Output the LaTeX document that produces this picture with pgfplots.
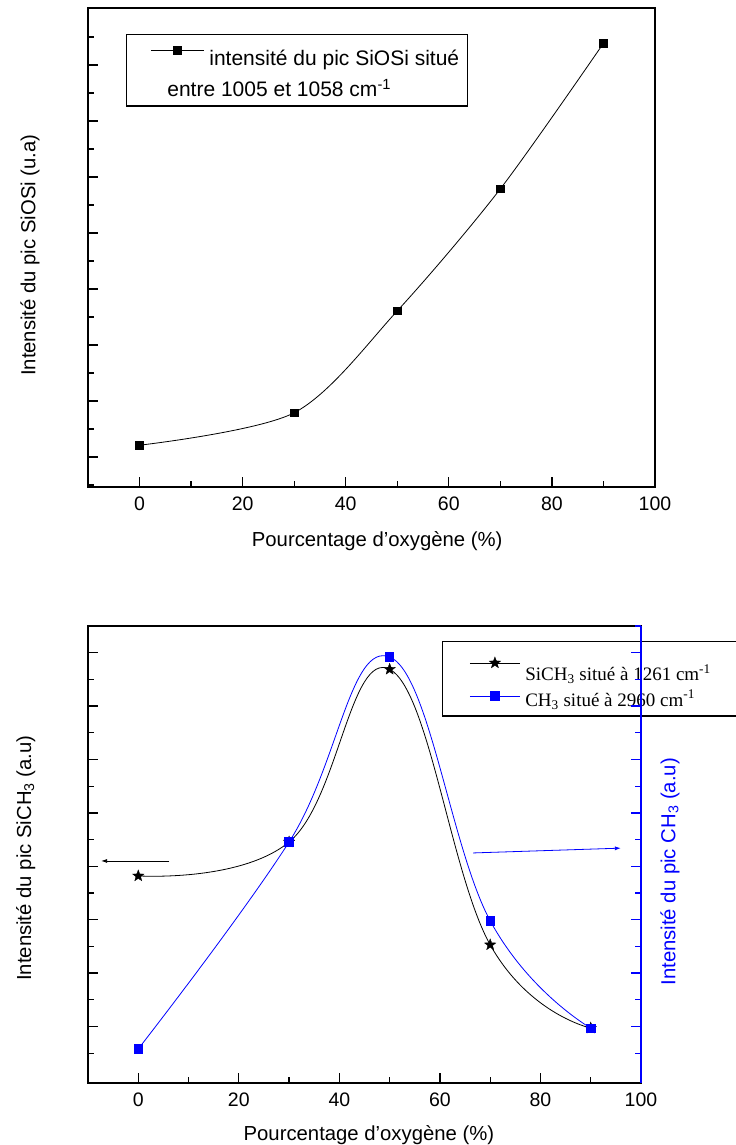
\documentclass[border=0pt]{standalone}
\usepackage{pgfplots}
\pgfplotsset{compat=1.18}
\usepackage{fontspec}
\setmainfont{Liberation Sans}
\newfontfamily\timesfont{Liberation Serif}
\usetikzlibrary{arrows.meta}
\definecolor{pureblue}{RGB}{0,0,255}
\pgfdeclareplotmark{fstar}{%
  \pgfpathmoveto{\pgfpointpolar{90}{\pgfplotmarksize}}%
  \pgfpathlineto{\pgfpointpolar{126}{0.42\pgfplotmarksize}}%
  \pgfpathlineto{\pgfpointpolar{162}{\pgfplotmarksize}}%
  \pgfpathlineto{\pgfpointpolar{198}{0.42\pgfplotmarksize}}%
  \pgfpathlineto{\pgfpointpolar{234}{\pgfplotmarksize}}%
  \pgfpathlineto{\pgfpointpolar{270}{0.42\pgfplotmarksize}}%
  \pgfpathlineto{\pgfpointpolar{306}{\pgfplotmarksize}}%
  \pgfpathlineto{\pgfpointpolar{342}{0.42\pgfplotmarksize}}%
  \pgfpathlineto{\pgfpointpolar{18}{\pgfplotmarksize}}%
  \pgfpathlineto{\pgfpointpolar{54}{0.42\pgfplotmarksize}}%
  \pgfpathclose
  \pgfusepathqfillstroke}
\newcommand{\labfont}{\fontsize{20.3bp}{24bp}\selectfont}
\newcommand{\tickfont}{\fontsize{19.5bp}{23bp}\selectfont}
\pgfplotsset{
  myaxis/.style={
    scale only axis,
    anchor=south west,
    xmin=-10, xmax=100,
    xtick={0,20,...,100},
    minor xtick={10,30,...,90},
    xtick pos=bottom,
    tick align=inside,
    major tick length=10bp, minor tick length=6bp,
    yticklabels={},
    axis line style={line width=1.6bp},
    every tick/.style={line width=1.3bp, black},
    xticklabel style={font=\tickfont, yshift=-6bp},
    /pgf/number format/assume math mode=true,
  }
}
\begin{document}
\begin{tikzpicture}
\useasboundingbox (0,0) rectangle (736bp,1145bp);
% ---------------- top chart ----------------
\begin{axis}[myaxis,
  at={(88bp,658bp)},
  width=567bp, height=479bp,
  ymin=-0.536, ymax=8.02,
  ytick={0,...,7}, minor ytick={-0.5,0.5,...,7.5},
  ytick pos=left,
  xlabel={Pourcentage d'oxygène (\%)},
  ylabel={Intensité du pic SiOSi (u.a)},
  every axis x label/.style={at={(axis description cs:0.51,-0.125)}, anchor=base, font=\labfont},
  every axis y label/.style={at={(axis description cs:-0.093,0.484)}, rotate=90, anchor=base, font=\labfont},
  legend style={at={(axis description cs:0.067,0.946)}, anchor=north west,
    draw=black, line width=1.2bp, inner xsep=4bp, inner ysep=6bp,
    font=\fontsize{21bp}{24bp}\selectfont, legend cell align=left,
    column sep=3bp, row sep=8bp},
  legend image code/.code={\path (-20bp,0bp); \draw[yshift=4bp,mark repeat=2,mark phase=2,#1] plot coordinates {(0bp,0bp) (26.5bp,0bp) (53bp,0bp)};},
]
\addplot[black, line width=0.8bp, smooth, mark=square*, mark size=3.8bp, mark options={solid}]
  coordinates {(0,0.21) (30,0.79) (50,2.61) (70,4.79) (90,7.39)};
\addlegendentry{\rule{0pt}{23bp}intensité du pic SiOSi situé\hspace*{2bp}}
\addlegendimage{empty legend}
\addlegendentry{\hspace*{-42bp}entre 1005 et 1058 cm\textsuperscript{-1}}
\end{axis}
% ---------------- bottom chart ----------------
\begin{axis}[myaxis,
  at={(88bp,62bp)},
  width=553bp, height=457bp,
  ymin=-1.058, ymax=7.50,
  ytick={0,...,7}, minor ytick={-0.5,0.5,...,7.5},
  ytick pos=left,
  xlabel={Pourcentage d'oxygène (\%)},
  ylabel={Intensité du pic SiCH\textsubscript{3} (a.u)},
  every axis x label/.style={at={(axis description cs:0.508,-0.125)}, anchor=base, font=\labfont},
  every axis y label/.style={at={(axis description cs:-0.103,0.492)}, rotate=90, anchor=base, font=\labfont},
  legend style={at={(axis description cs:0.640,0.967)}, anchor=north west,
    draw=black, line width=1.2bp, inner xsep=4bp, inner ysep=6bp,
    font=\timesfont\fontsize{19bp}{22bp}\selectfont, legend cell align=left,
    column sep=3bp, row sep=4bp},
  legend image code/.code={\path (-23bp,0bp); \draw[yshift=3bp,mark repeat=2,mark phase=2,#1] plot coordinates {(0bp,0bp) (25bp,0bp) (50bp,0bp)};},
]
\addplot[black, line width=0.8bp, smooth, tension=0.7, mark=fstar, mark size=6bp, mark options={solid, fill=black, line width=0.3bp}]
  coordinates {(0,2.82) (30,3.455) (50,6.69) (70,1.53) (90,-0.03)};
\addlegendentry{\rule{0pt}{31bp}SiCH\textsubscript{3} situé à 1261 cm\textsuperscript{-1}\hspace*{30bp}}
\addplot[pureblue, line width=0.8bp, smooth, tension=0.7, mark=square*, mark size=4.2bp, mark options={solid}]
  coordinates {(0,-0.42) (30,3.455) (50,6.92) (70,1.98) (90,-0.03)};
\addlegendentry{\rule[-20bp]{0pt}{1bp}CH\textsubscript{3} situé à 2960 cm\textsuperscript{-1}}
\draw[-{Latex[length=6bp,width=4bp]}, black, line width=0.8bp] (axis cs:6.2,3.10) -- (axis cs:-7.4,3.10);
\draw[-{Latex[length=6bp,width=4bp]}, pureblue, line width=0.8bp] (axis cs:66.6,3.25) -- (axis cs:96.0,3.34);
\end{axis}
\begin{axis}[myaxis,
  at={(88bp,62bp)},
  width=553bp, height=457bp,
  ymin=-1.058, ymax=7.50,
  ytick={0,...,7}, minor ytick={-0.5,0.5,...,7.5},
  axis x line=none,
  axis y line*=right,
  ytick pos=right,
  y axis line style={pureblue, line width=1.6bp},
  every tick/.style={line width=1.3bp, pureblue},
  every major tick/.append style={pureblue},
  every minor tick/.append style={pureblue},
  ylabel={Intensité du pic CH\textsubscript{3} (a.u)},
  every axis y label/.style={at={(axis description cs:1.062,0.462)}, rotate=90, anchor=base, font=\labfont, text=pureblue},
]
\end{axis}
\end{tikzpicture}
\end{document}
